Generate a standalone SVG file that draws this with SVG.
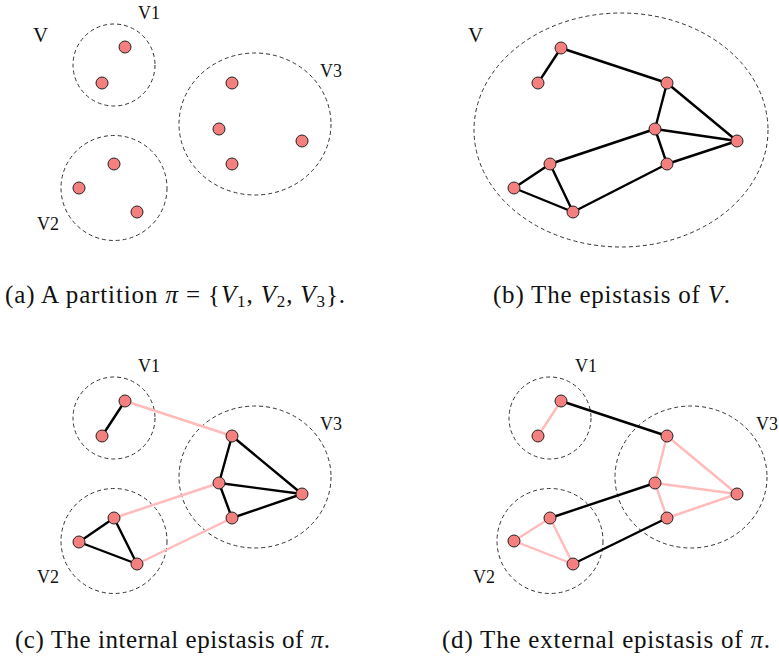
<svg xmlns="http://www.w3.org/2000/svg" width="779" height="663" viewBox="0 0 779 663">
<style>
.grp{fill:none;stroke:#333;stroke-width:1;stroke-dasharray:4 3}
.nd{fill:#f47f7f;stroke:#222;stroke-width:1}
.e{stroke:#000;stroke-width:2.4;stroke-linecap:round;fill:none}
.p{stroke:#ffbaba;stroke-width:2.4;stroke-linecap:round;fill:none}
.lbl{font-family:"Liberation Serif","Times New Roman",serif;font-size:18px;fill:#111}
.big{font-family:"Liberation Serif","Times New Roman",serif;font-size:21px;fill:#111}
.cap{font-family:"Liberation Serif","Times New Roman",serif;font-size:25px;fill:#111}
.sub{font-size:17px}
.it{font-style:italic}
</style>
<rect width="779" height="663" fill="#fff"/>

<!-- Panel (a) -->
<g id="panel-a">
  <text class="big" x="33" y="42">V</text>
  <g id="a-V1"><circle class="grp" cx="114" cy="65" r="41"/><text class="lbl" x="138" y="19">V1</text></g>
  <g id="a-V3"><ellipse class="grp" cx="255" cy="124" rx="76" ry="71"/><text class="lbl" x="320" y="77">V3</text></g>
  <g id="a-V2"><ellipse class="grp" cx="114" cy="188" rx="53" ry="52.5"/><text class="lbl" x="37" y="230">V2</text></g>
  <g id="a-n1"><circle class="nd" cx="125" cy="47" r="6"/></g>
  <g id="a-n2"><circle class="nd" cx="102" cy="83" r="6"/></g>
  <g id="a-n3"><circle class="nd" cx="232" cy="83" r="6"/></g>
  <g id="a-n4"><circle class="nd" cx="219" cy="129" r="6"/></g>
  <g id="a-n5"><circle class="nd" cx="232" cy="164" r="6"/></g>
  <g id="a-n6"><circle class="nd" cx="302" cy="141" r="6"/></g>
  <g id="a-n7"><circle class="nd" cx="114" cy="164" r="6"/></g>
  <g id="a-n8"><circle class="nd" cx="79" cy="188" r="6"/></g>
  <g id="a-n9"><circle class="nd" cx="137" cy="212" r="6"/></g>
</g>

<!-- Panel (b) -->
<g id="panel-b">
  <text class="big" x="468" y="42">V</text>
  <g id="b-V"><ellipse class="grp" cx="621" cy="130" rx="147" ry="117"/></g>
  <g id="b-edges">
    <line class="e" x1="561" y1="48" x2="538" y2="83"/>
    <line class="e" x1="561" y1="48" x2="667" y2="83"/>
    <line class="e" x1="667" y1="83" x2="655" y2="129"/>
    <line class="e" x1="667" y1="83" x2="737" y2="141"/>
    <line class="e" x1="655" y1="129" x2="737" y2="141"/>
    <line class="e" x1="655" y1="129" x2="667" y2="164"/>
    <line class="e" x1="667" y1="164" x2="737" y2="141"/>
    <line class="e" x1="655" y1="129" x2="550" y2="164"/>
    <line class="e" x1="550" y1="164" x2="514" y2="188"/>
    <line class="e" x1="514" y1="188" x2="573" y2="212"/>
    <line class="e" x1="550" y1="164" x2="573" y2="212"/>
    <line class="e" x1="573" y1="212" x2="667" y2="164"/>
  </g>
  <g id="b-n1"><circle class="nd" cx="561" cy="48" r="6"/></g>
  <g id="b-n2"><circle class="nd" cx="538" cy="83" r="6"/></g>
  <g id="b-n3"><circle class="nd" cx="667" cy="83" r="6"/></g>
  <g id="b-n4"><circle class="nd" cx="655" cy="129" r="6"/></g>
  <g id="b-n5"><circle class="nd" cx="667" cy="164" r="6"/></g>
  <g id="b-n6"><circle class="nd" cx="737" cy="141" r="6"/></g>
  <g id="b-n7"><circle class="nd" cx="550" cy="164" r="6"/></g>
  <g id="b-n8"><circle class="nd" cx="514" cy="188" r="6"/></g>
  <g id="b-n9"><circle class="nd" cx="573" cy="212" r="6"/></g>
</g>

<!-- Panel (c) -->
<g id="panel-c">
  <g id="c-V1"><circle class="grp" cx="114" cy="418" r="41"/><text class="lbl" x="138" y="372">V1</text></g>
  <g id="c-V3"><ellipse class="grp" cx="255" cy="477" rx="76" ry="71"/><text class="lbl" x="320" y="430">V3</text></g>
  <g id="c-V2"><ellipse class="grp" cx="114" cy="541" rx="53" ry="52.5"/><text class="lbl" x="37" y="583">V2</text></g>
  <g id="c-edges">
    <line class="p" x1="125" y1="401" x2="232" y2="436"/>
    <line class="p" x1="114" y1="518" x2="219" y2="483"/>
    <line class="p" x1="137" y1="564" x2="232" y2="518"/>
    <line class="e" x1="125" y1="401" x2="102" y2="436"/>
    <line class="e" x1="232" y1="436" x2="219" y2="483"/>
    <line class="e" x1="232" y1="436" x2="302" y2="494"/>
    <line class="e" x1="219" y1="483" x2="302" y2="494"/>
    <line class="e" x1="219" y1="483" x2="232" y2="518"/>
    <line class="e" x1="232" y1="518" x2="302" y2="494"/>
    <line class="e" x1="114" y1="518" x2="79" y2="542"/>
    <line class="e" x1="79" y1="542" x2="137" y2="564"/>
    <line class="e" x1="114" y1="518" x2="137" y2="564"/>
  </g>
  <g id="c-n1"><circle class="nd" cx="125" cy="401" r="6"/></g>
  <g id="c-n2"><circle class="nd" cx="102" cy="436" r="6"/></g>
  <g id="c-n3"><circle class="nd" cx="232" cy="436" r="6"/></g>
  <g id="c-n4"><circle class="nd" cx="219" cy="483" r="6"/></g>
  <g id="c-n5"><circle class="nd" cx="232" cy="518" r="6"/></g>
  <g id="c-n6"><circle class="nd" cx="302" cy="494" r="6"/></g>
  <g id="c-n7"><circle class="nd" cx="114" cy="518" r="6"/></g>
  <g id="c-n8"><circle class="nd" cx="79" cy="542" r="6"/></g>
  <g id="c-n9"><circle class="nd" cx="137" cy="564" r="6"/></g>
</g>

<!-- Panel (d) -->
<g id="panel-d">
  <g id="d-V1"><circle class="grp" cx="550" cy="418" r="41"/><text class="lbl" x="575" y="372">V1</text></g>
  <g id="d-V3"><ellipse class="grp" cx="691" cy="477" rx="76" ry="71"/><text class="lbl" x="756" y="430">V3</text></g>
  <g id="d-V2"><ellipse class="grp" cx="550" cy="541" rx="53" ry="52.5"/><text class="lbl" x="473" y="583">V2</text></g>
  <g id="d-edges">
    <line class="p" x1="561" y1="401" x2="538" y2="436"/>
    <line class="p" x1="667" y1="436" x2="655" y2="483"/>
    <line class="p" x1="667" y1="436" x2="737" y2="494"/>
    <line class="p" x1="655" y1="483" x2="737" y2="494"/>
    <line class="p" x1="655" y1="483" x2="667" y2="518"/>
    <line class="p" x1="667" y1="518" x2="737" y2="494"/>
    <line class="p" x1="550" y1="518" x2="514" y2="541"/>
    <line class="p" x1="514" y1="541" x2="573" y2="564"/>
    <line class="p" x1="550" y1="518" x2="573" y2="564"/>
    <line class="e" x1="561" y1="401" x2="667" y2="436"/>
    <line class="e" x1="655" y1="483" x2="550" y2="518"/>
    <line class="e" x1="573" y1="564" x2="667" y2="518"/>
  </g>
  <g id="d-n1"><circle class="nd" cx="561" cy="401" r="6"/></g>
  <g id="d-n2"><circle class="nd" cx="538" cy="436" r="6"/></g>
  <g id="d-n3"><circle class="nd" cx="667" cy="436" r="6"/></g>
  <g id="d-n4"><circle class="nd" cx="655" cy="483" r="6"/></g>
  <g id="d-n5"><circle class="nd" cx="667" cy="518" r="6"/></g>
  <g id="d-n6"><circle class="nd" cx="737" cy="494" r="6"/></g>
  <g id="d-n7"><circle class="nd" cx="550" cy="518" r="6"/></g>
  <g id="d-n8"><circle class="nd" cx="514" cy="541" r="6"/></g>
  <g id="d-n9"><circle class="nd" cx="573" cy="564" r="6"/></g>
</g>

<!-- Captions -->
<g id="captions">
  <text class="cap" x="5" y="303" textLength="340">(a) A partition <tspan class="it">π</tspan> = {<tspan class="it">V</tspan><tspan class="sub" dy="4">1</tspan><tspan dy="-4">, </tspan><tspan class="it">V</tspan><tspan class="sub" dy="4">2</tspan><tspan dy="-4">, </tspan><tspan class="it">V</tspan><tspan class="sub" dy="4">3</tspan><tspan dy="-4">}.</tspan></text>
  <text class="cap" x="493" y="303" textLength="237">(b) The epistasis of <tspan class="it">V</tspan>.</text>
  <text class="cap" x="15" y="648" textLength="315">(c) The internal epistasis of <tspan class="it">π</tspan>.</text>
  <text class="cap" x="442" y="648" textLength="328">(d) The external epistasis of <tspan class="it">π</tspan>.</text>
</g>
</svg>
